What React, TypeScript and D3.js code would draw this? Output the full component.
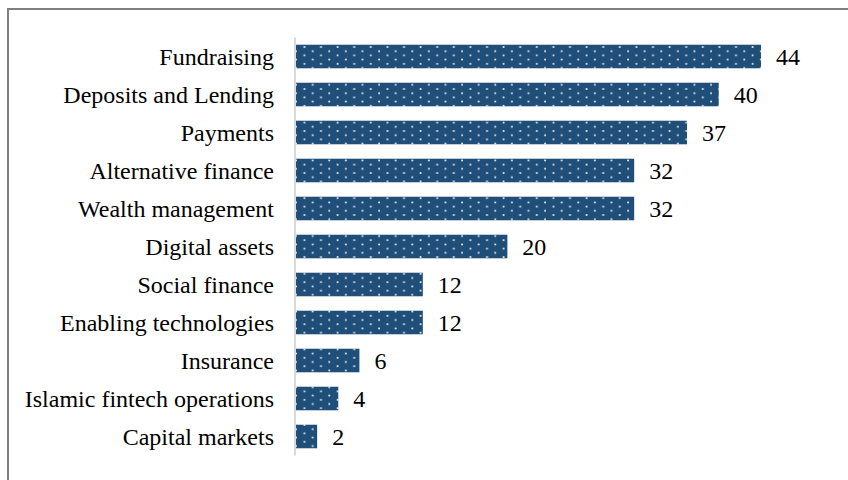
import React from "react";
import * as d3 from "d3";

const categories = [
  "Fundraising",
  "Deposits and Lending",
  "Payments",
  "Alternative finance",
  "Wealth management",
  "Digital assets",
  "Social finance",
  "Enabling technologies",
  "Insurance",
  "Islamic fintech operations",
  "Capital markets",
];
const values = [44, 40, 37, 32, 32, 20, 12, 12, 6, 4, 2];

const W = 848;
const H = 480;
const FONT = "'Liberation Serif', 'Times New Roman', serif";

export default function App() {
  const x = d3.scaleLinear().domain([0, 44]).range([296, 761]);
  const y = d3
    .scaleBand<string>()
    .domain(categories)
    .range([37.5, 455.5])
    .paddingInner(0.38)
    .paddingOuter(0.19);

  return (
    <svg
      width={W}
      height={H}
      style={{ position: "absolute", left: 0, top: 0, background: "#fff" }}
    >
      <defs>
        <pattern id="dots" patternUnits="userSpaceOnUse" width="16.6" height="8.4" x="296" y="47">
          <rect width="16.6" height="8.4" fill="#1f4e79" />
          <rect x="7.5" y="-0.8" width="1.8" height="1.6" fill="#f2f2f2" />
          <rect x="7.5" y="7.6" width="1.8" height="1.6" fill="#f2f2f2" />
          <rect x="-0.8" y="3.4" width="1.8" height="1.6" fill="#f2f2f2" />
          <rect x="15.8" y="3.4" width="1.8" height="1.6" fill="#f2f2f2" />
        </pattern>
      </defs>
      <rect x={8} y={9} width={W + 20} height={H + 20} fill="none" stroke="#7f7f7f" strokeWidth={2} />
      <line x1={295} x2={295} y1={37.5} y2={455.5} stroke="#d9d9d9" strokeWidth={2} />
      {categories.map((c, i) => {
        const yy = y(c)!;
        const bw = y.bandwidth();
        const cy = yy + bw / 2;
        return (
          <g key={c}>
            <rect x={x(0)} y={yy} width={x(values[i]) - x(0)} height={bw} fill="url(#dots)" />
            <text
              x={274}
              y={cy}
              textAnchor="end"
              dominantBaseline="central"
              fontFamily={FONT}
              fontSize={24}
              fill="#000"
            >
              {c}
            </text>
            <text
              x={x(values[i]) + 15}
              y={cy}
              dominantBaseline="central"
              fontFamily={FONT}
              fontSize={24}
              fill="#000"
            >
              {values[i]}
            </text>
          </g>
        );
      })}
    </svg>
  );
}
